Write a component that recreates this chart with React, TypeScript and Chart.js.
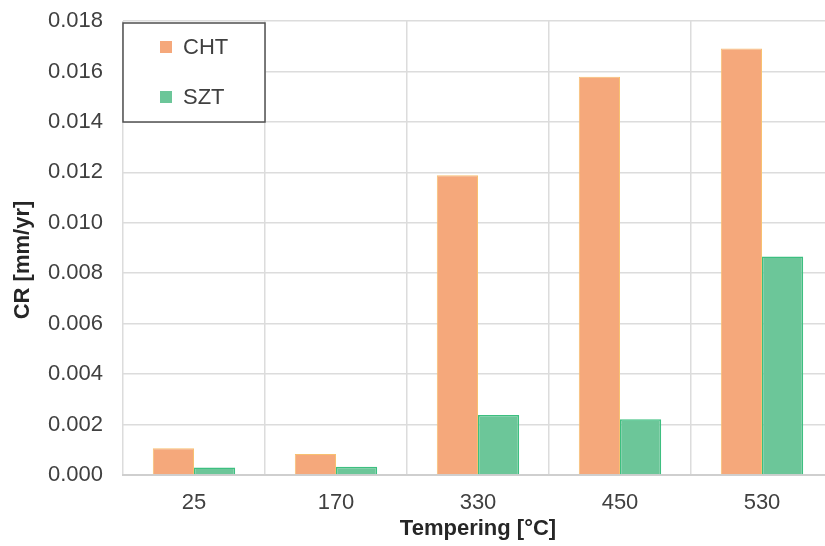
import React, { useEffect, useRef } from "react";
import { Chart, registerables } from "chart.js";

Chart.register(...registerables);

const categories = ["25", "170", "330", "450", "530"];
const chtValues = [0.00106, 0.00083, 0.01188, 0.01579, 0.01691];
const sztValues = [0.0003, 0.00033, 0.00238, 0.00221, 0.00866];
const seriesNames = ["CHT", "SZT"];
const yTitle = "CR [mm/yr]";
const xTitle = "Tempering [°C]";

const FONT = "'Liberation Sans', Arial, sans-serif";
const CHT_FILL = "#F5A87B";
const CHT_BORDER = "#F8C070";
const SZT_FILL = "#6CC699";
const SZT_BORDER = "#3DBF80";

const legendBox = {
  id: "legendBox",
  afterDraw(chart: any) {
    const ctx = chart.ctx;
    const a = chart.chartArea;
    const x0 = a.left;
    const y0 = 23;
    const w = 142;
    const h = 99;
    ctx.save();
    ctx.fillStyle = "#ffffff";
    ctx.fillRect(x0, y0, w, h);
    ctx.strokeStyle = "#505050";
    ctx.lineWidth = 1.5;
    ctx.strokeRect(x0, y0, w, h);
    const items = [
      { label: seriesNames[0], color: CHT_FILL, cy: 47 },
      { label: seriesNames[1], color: SZT_FILL, cy: 97 },
    ];
    ctx.font = `22px ${FONT}`;
    ctx.textBaseline = "middle";
    ctx.textAlign = "left";
    for (const it of items) {
      ctx.fillStyle = it.color;
      ctx.fillRect(x0 + 37, it.cy - 6, 12, 12);
      ctx.fillStyle = "#404040";
      ctx.fillText(it.label, x0 + 60, it.cy + 1);
    }
    // y axis title (slightly below the plot's centre, as in the reference)
    ctx.save();
    ctx.translate(23, (a.top + a.bottom) / 2 + 12);
    ctx.rotate(-Math.PI / 2);
    ctx.textAlign = "center";
    ctx.textBaseline = "middle";
    ctx.font = `bold 22px ${FONT}`;
    ctx.fillStyle = "#262626";
    ctx.fillText(yTitle, 0, 0);
    ctx.restore();
    ctx.restore();
  },
};

export default function App() {
  const ref = useRef<HTMLCanvasElement>(null);
  useEffect(() => {
    if (!ref.current) return;
    const chart = new Chart(ref.current, {
      type: "bar",
      data: {
        labels: categories,
        datasets: [
          {
            label: seriesNames[0],
            data: chtValues,
            backgroundColor: CHT_FILL,
            borderColor: CHT_BORDER,
            borderWidth: 1,
          },
          {
            label: seriesNames[1],
            data: sztValues,
            backgroundColor: SZT_FILL,
            borderColor: SZT_BORDER,
            borderWidth: 1.5,
          },
        ],
      },
      options: {
        responsive: false,
        animation: false,
        devicePixelRatio: 1,
        layout: { padding: { left: 0, right: 12, top: 21, bottom: 0 } },
        datasets: { bar: { categoryPercentage: 0.58, barPercentage: 1.0 } },
        plugins: { legend: { display: false }, tooltip: { enabled: false } },
        scales: {
          x: {
            grid: { color: "#dcdcdc", lineWidth: 1.5, drawTicks: false, offset: true },
            border: { color: "#cfcfcf", width: 2 },
            ticks: { color: "#404040", font: { family: FONT, size: 22 }, padding: 15 },
            title: {
              display: true,
              text: xTitle,
              color: "#262626",
              font: { family: FONT, size: 22, weight: "bold" },
            },
            afterFit: (s: any) => {
              s.height = 71;
              s.paddingLeft = 0;
              s.paddingRight = 0;
            },
          },
          y: {
            min: 0,
            max: 0.018,
            grid: { color: "#dcdcdc", lineWidth: 1.5, drawTicks: false },
            border: { display: false },
            ticks: {
              stepSize: 0.002,
              color: "#404040",
              font: { family: FONT, size: 22 },
              padding: 20,
              callback: (v: any) => Number(v).toFixed(3),
            },
            afterFit: (s: any) => {
              s.width = 123;
              s.paddingTop = 0;
              s.paddingBottom = 0;
            },
          },
        },
      },
      plugins: [legendBox],
    });
    return () => chart.destroy();
  }, []);
  return (
    <div
      style={{
        position: "fixed",
        left: 0,
        top: 0,
        width: 825,
        height: 546,
        overflow: "hidden",
        background: "#fff",
      }}
    >
      <canvas ref={ref} width={845} height={546} style={{ display: "block" }} />
    </div>
  );
}
